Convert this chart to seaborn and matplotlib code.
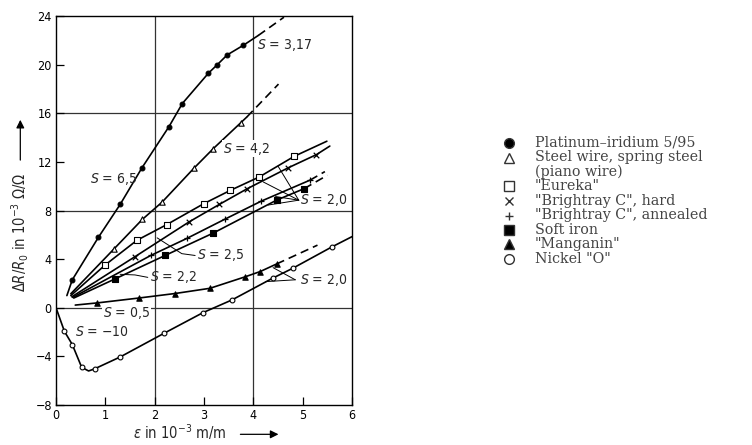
import numpy as np
import pandas as pd
import seaborn as sns
import matplotlib.pyplot as plt
from matplotlib.lines import Line2D

pt_x = [0.33, 0.86, 1.30, 1.74, 2.29, 2.56, 3.09, 3.27, 3.47, 3.80]
pt_y = [2.3, 5.8, 8.5, 11.5, 14.9, 16.8, 19.3, 20.0, 20.8, 21.6]
steel_x = [1.18, 1.75, 2.15, 2.80, 3.19, 3.74]
steel_y = [4.86, 7.27, 8.69, 11.5, 13.1, 15.2]
eureka_x = [0.99, 1.64, 2.24, 2.99, 3.53, 4.12, 4.83]
eureka_y = [3.5, 5.55, 6.83, 8.55, 9.65, 10.76, 12.46]
hard_x = [1.60, 2.70, 3.31, 3.87, 4.70, 5.28]
hard_y = [4.2, 7.07, 8.5, 9.78, 11.5, 12.6]
annealed_x = [1.92, 2.65, 3.43, 4.16, 5.15]
annealed_y = [4.3, 5.7, 7.3, 8.77, 10.5]
iron_x = [1.20, 2.21, 3.19, 4.47, 5.03]
iron_y = [2.38, 4.3, 6.15, 8.85, 9.8]
mang_x = [0.84, 1.68, 2.41, 3.12, 3.83, 4.14, 4.47]
mang_y = [0.4, 0.8, 1.17, 1.6, 2.54, 2.98, 3.6]
nickel_x = [0.17, 0.33, 0.52, 0.78, 1.30, 2.19, 2.98, 3.57, 4.39, 4.80, 5.59]
nickel_y = [-1.94, -3.03, -4.9, -5.03, -4.05, -2.1, -0.4, 0.65, 2.43, 3.25, 5.0]

# where the drawn curves start, end solid and end dashed
line_start = {"pt": (0.22, 1.0), "steel": (0.30, 1.15), "eureka": (0.30, 1.0),
              "hard": (0.32, 0.9), "annealed": (0.34, 0.85), "iron": (0.36, 0.8),
              "mang": (0.39, 0.22), "nickel": (0.0, 0.0)}
line_end = {"pt": (4.10, 22.4), "steel": (3.87, 15.7), "eureka": (5.49, 13.7),
            "hard": (5.55, 13.3), "annealed": None, "iron": None,
            "mang": None, "nickel": (6.0, 5.85)}
dash_end = {"pt": (4.62, 23.9), "steel": (4.51, 18.4), "eureka": None,
            "hard": None, "annealed": (5.45, 11.2), "iron": (5.5, 10.9),
            "mang": (5.3, 5.15), "nickel": None}
nickel_min = (0.66, -5.2)

labels = ["Platinum\u2013iridium 5/95", "Steel wire, spring steel\n(piano wire)",
          "\"Eureka\"", "\"Brightray C\", hard", "\"Brightray C\", annealed",
          "Soft iron", "\"Manganin\"", "Nickel \"O\""]

series = [
    ("pt", pt_x, pt_y, "o", "black"),
    ("steel", steel_x, steel_y, "^", "white"),
    ("eureka", eureka_x, eureka_y, "s", "white"),
    ("hard", hard_x, hard_y, "x", "black"),
    ("annealed", annealed_x, annealed_y, "+", "black"),
    ("iron", iron_x, iron_y, "s", "black"),
    ("mang", mang_x, mang_y, "^", "black"),
    ("nickel", nickel_x, nickel_y, "o", "white"),
]

sns.set_theme(style="white")
plt.rcParams["font.family"] = ["DejaVu Sans"]
plt.rcParams["font.stretch"] = "condensed"
plt.rcParams["mathtext.fontset"] = "dejavusans"

fig = plt.figure(figsize=(7.52, 4.45), dpi=100)
ax = fig.add_axes([0.0745, 0.0899, 0.3936, 0.8741])

for key, xs, ys, mk, fc in series:
    px = [line_start[key][0]] + list(xs)
    py = [line_start[key][1]] + list(ys)
    if key == "nickel":
        px.insert(4, nickel_min[0])
        py.insert(4, nickel_min[1])
    if line_end[key] is not None:
        px.append(line_end[key][0])
        py.append(line_end[key][1])
    df = pd.DataFrame({"x": px, "y": py})
    sns.lineplot(data=df, x="x", y="y", sort=False, estimator=None,
                 color="black", lw=1.2, ax=ax)
    if dash_end[key] is not None:
        dd = pd.DataFrame({"x": [px[-1], dash_end[key][0]],
                           "y": [py[-1], dash_end[key][1]]})
        sns.lineplot(data=dd, x="x", y="y", sort=False, estimator=None,
                     color="black", lw=1.2, ax=ax)
        ax.lines[-1].set_dashes((5, 3))
    if mk in ("x", "+"):
        sns.scatterplot(x=xs, y=ys, marker=mk, color="black", s=16,
                        linewidth=0.9, ax=ax, zorder=4)
    else:
        size = 12 if mk == "o" else 15
        sns.scatterplot(x=xs, y=ys, marker=mk, color=fc, edgecolor="black",
                        s=size, linewidth=0.8, ax=ax, zorder=4)

# leader lines
lead = dict(color="black", lw=0.7)
for p in [(4.5, 11.65), (4.2, 10.35), (4.45, 9.15), (4.3, 8.45)]:
    ax.plot([p[0], 4.92], [p[1], 8.85], **lead)
for p in [(4.4, 3.3), (4.25, 2.15)]:
    ax.plot([p[0], 4.85], [p[1], 2.3], **lead)
ax.plot([2.82, 2.55, 2.05], [4.3, 4.45, 5.75], **lead)
ax.plot([1.86, 1.6, 1.3], [2.5, 2.7, 2.75], **lead)

tkw = dict(fontsize=10, va="center", ha="left")
wbox = dict(facecolor="white", edgecolor="none", pad=0.5)
ax.text(4.08, 21.6, "$S$ = 3,17", **tkw)
ax.text(3.38, 13.1, "$S$ = 4,2", bbox=wbox, **tkw)
ax.text(0.68, 10.6, "$S$ = 6,5", **tkw)
ax.text(4.95, 8.85, "$S$ = 2,0", **tkw)
ax.text(2.85, 4.3, "$S$ = 2,5", **tkw)
ax.text(1.9, 2.5, "$S$ = 2,2", **tkw)
ax.text(0.95, -0.4, "$S$ = 0,5", bbox=wbox, **tkw)
ax.text(0.38, -2.0, "$S$ = \u221210", **tkw)
ax.text(4.95, 2.3, "$S$ = 2,0", **tkw)

ax.set_xlim(0, 6)
ax.set_ylim(-8, 24)
ax.set_xticks(range(0, 7))
ax.set_yticks(range(-8, 25, 4))
ax.set_yticklabels([str(v).replace("-", "\u2212") for v in range(-8, 25, 4)])
for gx in (2, 4):
    ax.axvline(gx, color="#333333", lw=0.9, zorder=0)
for gy in (0, 8, 16):
    ax.axhline(gy, color="#333333", lw=0.9, zorder=0)
ax.tick_params(direction="in", length=6, width=0.9, colors="black",
               labelsize=9, bottom=True, left=True, pad=3)
ax.set_xlabel("")
ax.set_ylabel("")
for s in ax.spines.values():
    s.set_color("black")
    s.set_linewidth(1.0)

fig.text(0.177, 0.014, r"$\varepsilon$ in 10$^{-3}$ m/m", fontsize=10.5,
         ha="left", va="baseline")
fig.text(0.027, 0.479, r"$\Delta R/R_0$ in 10$^{-3}$ $\Omega/\Omega$", fontsize=10.5,
         rotation=90, ha="center", va="center")
ax.annotate("", xy=(0.374, 0.024), xytext=(0.316, 0.024),
            xycoords="figure fraction",
            arrowprops=dict(arrowstyle="-|>", color="black", lw=0.9,
                            mutation_scale=12))
ax.annotate("", xy=(0.027, 0.737), xytext=(0.027, 0.634),
            xycoords="figure fraction",
            arrowprops=dict(arrowstyle="-|>", color="black", lw=0.9,
                            mutation_scale=12))

# legend rows, placed by hand so the line spacing matches the figure
row_px = 143
for (key, xs, ys, mk, fc), lab in zip(series, labels):
    ms = 7 if mk not in ("x", "+") else 6
    fig.add_artist(Line2D([509 / 752], [1 - row_px / 445],
                          transform=fig.transFigure, ls="none", marker=mk,
                          markersize=ms, markerfacecolor=fc,
                          markeredgecolor="#333333", markeredgewidth=1.0))
    for part in lab.split("\n"):
        fig.text(535 / 752, 1 - row_px / 445, part, family="DejaVu Serif",
                 fontstretch="normal", fontsize=10.3, color="#444444",
                 va="center", ha="left")
        row_px += 14.5

fig.savefig("out.png", dpi=100)
